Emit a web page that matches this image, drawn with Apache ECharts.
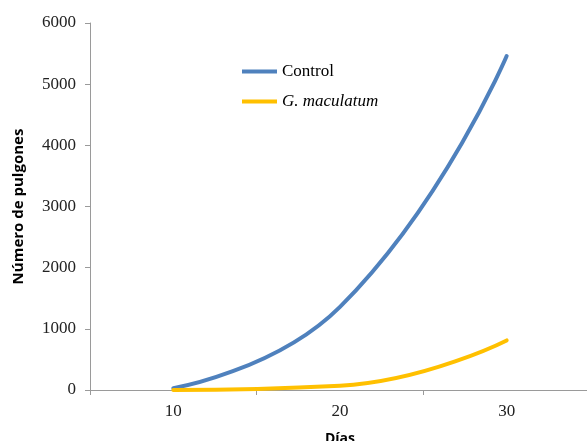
<!DOCTYPE html>
<html>
<head>
<meta charset="utf-8">
<script src="https://cdn.jsdelivr.net/npm/echarts@6/dist/echarts.min.js"></script>
<style>html,body{margin:0;padding:0;background:#fff;}#c{width:587px;height:441px;}</style>
</head>
<body>
<div id="c"></div>
<script>
const dias = ['10', '20', '30'];
const control = [30, 1360, 5460];
const maculatum = [0, 70, 810];
const yTicks = [0, 1000, 2000, 3000, 4000, 5000, 6000];

const chart = echarts.init(document.getElementById('c'));
chart.setOption({
  animation: false,
  backgroundColor: '#fff',
  grid: { left: 90, right: -3, top: 23, bottom: 51, containLabel: false, outerBoundsMode: 'none' },
  legend: {
    orient: 'vertical',
    left: 237,
    top: 58,
    itemWidth: 35,
    itemHeight: 4,
    itemGap: 13,
    icon: 'rect',
    textStyle: {
      fontFamily: 'Liberation Serif',
      fontSize: 17,
      color: '#000',
      rich: { i: { fontStyle: 'italic', fontFamily: 'Liberation Serif', fontSize: 17, color: '#000' } }
    },
    formatter: function (n) { return n === 'G. maculatum' ? '{i|' + n + '}' : n; },
    data: ['Control', 'G. maculatum']
  },
  xAxis: {
    type: 'category',
    data: dias,
    boundaryGap: true,
    name: 'Días',
    nameLocation: 'middle',
    nameGap: 42,
    nameTextStyle: { fontFamily: 'Open Sans', fontWeight: 'bold', fontSize: 14, color: '#000' },
    axisLine: { lineStyle: { color: '#9a9a9a', width: 1 } },
    axisTick: { show: true, length: 5, lineStyle: { color: '#9a9a9a' } },
    axisLabel: { fontFamily: 'Liberation Serif', fontSize: 17, color: '#222', margin: 13 },
    splitLine: { show: false }
  },
  yAxis: {
    type: 'value',
    min: 0,
    max: 6000,
    interval: 1000,
    name: 'Número de pulgones',
    nameLocation: 'middle',
    nameGap: 64,
    nameTextStyle: { fontFamily: 'Open Sans', fontWeight: 'bold', fontSize: 15, color: '#000' },
    axisLine: { show: true, lineStyle: { color: '#9a9a9a', width: 1 } },
    axisTick: { show: true, length: 5, lineStyle: { color: '#9a9a9a' } },
    axisLabel: {
      fontFamily: 'Liberation Serif', fontSize: 17, color: '#222', margin: 14,
      formatter: function (v) { return yTicks.indexOf(v) >= 0 ? String(v) : ''; }
    },
    splitLine: { show: false }
  },
  series: [
    {
      name: 'Control', type: 'line', data: control, smooth: 0.5,
      showSymbol: false, symbol: 'none',
      lineStyle: { color: '#4f81bd', width: 4, cap: 'round' },
      itemStyle: { color: '#4f81bd' }
    },
    {
      name: 'G. maculatum', type: 'line', data: maculatum, smooth: 0.5,
      showSymbol: false, symbol: 'none',
      lineStyle: { color: '#ffc000', width: 4, cap: 'round' },
      itemStyle: { color: '#ffc000' }
    }
  ]
});
</script>
</body>
</html>
